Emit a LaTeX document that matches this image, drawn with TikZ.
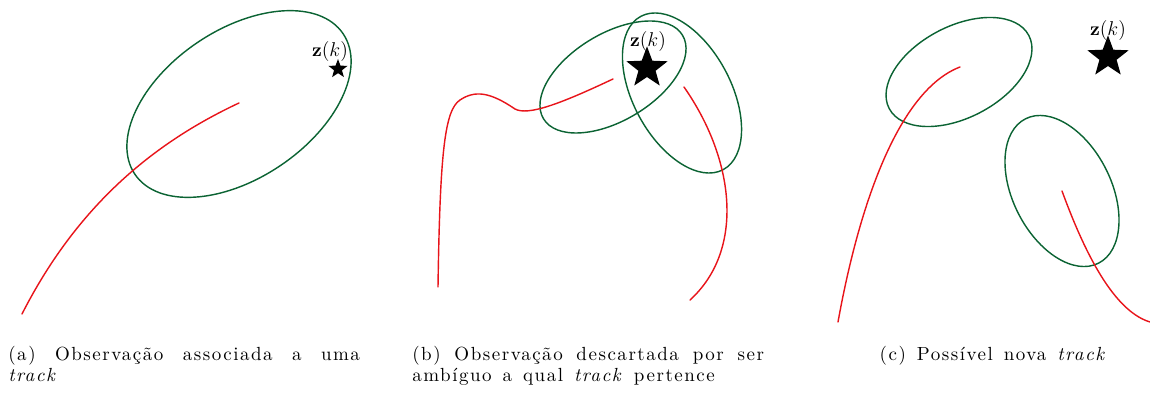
\documentclass[tikz,border=0pt]{standalone}
\usepackage{fontspec}
\setmainfont{lmroman10}[Extension=.otf, UprightFont=*-regular, BoldFont=*-bold,
  ItalicFont=*-italic, BoldItalicFont=*-bolditalic]
\newfontfamily\capfont{lmroman10}[Extension=.otf, UprightFont=*-regular, BoldFont=*-bold,
  ItalicFont=*-italic, BoldItalicFont=*-bolditalic, LetterSpace=8, WordSpace=1.4]
\usetikzlibrary{shapes.geometric}
\definecolor{gatecol}{HTML}{0B6333}
\definecolor{trackcol}{HTML}{E8141A}
\tikzset{
  every picture/.style={line join=round, line cap=round},
  gate/.style={draw=gatecol, line width=0.85pt},
  track/.style={draw=trackcol, line width=0.85pt},
  obs/.style={star, star points=5, star point ratio=2.4, fill=black, inner sep=0pt},
  zlabel/.style={inner sep=0pt, font=\fontsize{11.5}{13}\selectfont},
  subcap/.style={inner sep=0pt, font=\fontsize{11.4}{12.6}\selectfont\capfont},
}

\begin{document}
\begin{tikzpicture}[x=0.6pt,y=0.6pt]
\useasboundingbox (0,0) rectangle (1150,394);
% (a)
\draw[gate, rotate around={34:(239,290)}] (239,290) ellipse [x radius=125.6, y radius=74.2];
\draw[track] (22,80) .. controls (80,194) and (160,254) .. (239,291);
\node[obs, minimum size=12pt] (obsA) at (338,325) {};
\node[zlabel] (zA) at (330,342) {$\mathbf{z}(k)$};
\node[subcap, anchor=north west, text width=211pt, align=justify] (capA) at (8,48)
  {(a) Observação associada a uma\linebreak \textit{track}};
% (b)
\draw[gate, rotate around={31:(613,317)}] (613,317) ellipse [x radius=81.1, y radius=43.5];
\draw[gate, rotate around={118.3:(682,301)}] (682,301) ellipse [x radius=87, y radius=48.8];
\draw[track] (438,107) .. controls (440,244) and (445,284) .. (460,294)
  .. controls (475,304) and (490,302) .. (515,285)
  .. controls (528,278) and (560,290) .. (613,315);
\draw[track] (684,307) .. controls (735,234) and (745,144) .. (690,94);
\node[obs, minimum size=26pt] (obsB) at (647,326) {};
\node[zlabel] (zB) at (648,352) {$\mathbf{z}(k)$};
\node[subcap, anchor=north west, text width=211pt, align=justify] (capB) at (412,48)
  {(b) Observação descartada por ser\linebreak ambíguo a qual \textit{track} pertence};
% (c)
\draw[gate, rotate around={27.6:(959,322)}] (959,322) ellipse [x radius=78.8, y radius=45.7];
\draw[gate, rotate around={116.8:(1062,203)}] (1062,203) ellipse [x radius=80.9, y radius=49.1];
\draw[track] (838,72) .. controls (860,194) and (900,304) .. (960,327);
\draw[track] (1062,203) .. controls (1080,154) and (1110,84) .. (1150,72);
\node[obs, minimum size=26pt] (obsC) at (1108,337) {};
\node[zlabel] (zC) at (1108,363) {$\mathbf{z}(k)$};
\node[subcap, anchor=north] (capC) at (993,48) {(c) Possível nova \textit{track}};
\end{tikzpicture}
\end{document}
